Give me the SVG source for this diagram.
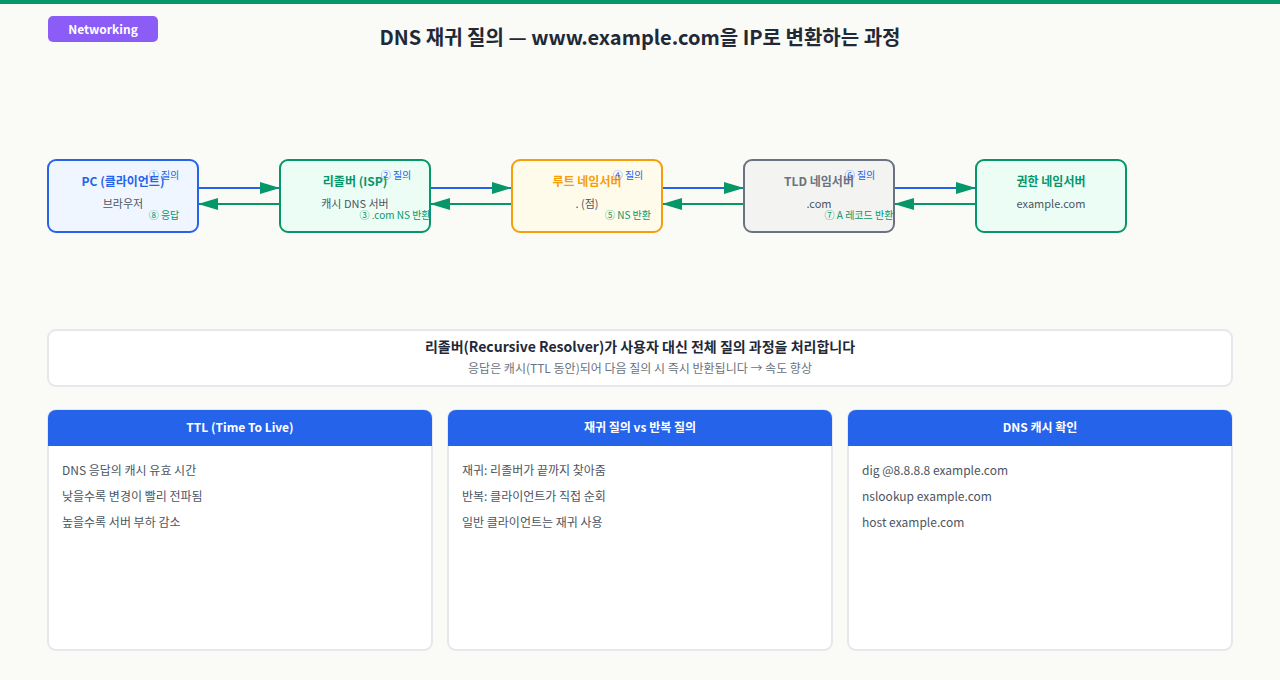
<svg xmlns="http://www.w3.org/2000/svg" width="1280" height="680" viewBox="0 0 1280 680">
<defs>
<marker id="ahb" viewBox="0 0 20 12" refX="20" refY="6" markerWidth="20" markerHeight="12" markerUnits="userSpaceOnUse" orient="auto"><path d="M0,0 L20,6 L0,12 z" fill="#059669"/></marker>
</defs>
<style>
text{font-family:"Noto Sans CJK KR","Noto Sans",sans-serif}
.nt{font-size:12px;font-weight:700;text-anchor:middle}
.ns{font-size:11px;fill:#4b5563;text-anchor:middle}
.q{font-size:10px;fill:#2563eb;text-anchor:middle}
.r{font-size:10px;fill:#059669;text-anchor:middle}
.fw{stroke:#2563eb;stroke-width:2;fill:none}
.bw{stroke:#059669;stroke-width:2;fill:none}
.card{fill:#ffffff;stroke:#e5e7eb;stroke-width:2}
.ch{font-size:12px;font-weight:700;fill:#ffffff;text-anchor:middle}
.ci{font-size:12px;fill:#4b5563}
</style>
<rect width="1280" height="680" fill="#fafaf6"/>
<rect width="1280" height="4" fill="#059669"/>
<g id="badge"><rect x="48" y="16" width="110" height="26" rx="5" fill="#8b5cf6"/><text x="103" y="33.5" font-size="12" font-weight="700" fill="#ffffff" text-anchor="middle">Networking</text></g>
<text id="title" x="640" y="45" font-size="20" font-weight="700" fill="#1f2937" text-anchor="middle">DNS 재귀 질의 — www.example.com을 IP로 변환하는 과정</text>

<g id="connectors">
<line class="fw" x1="198" y1="188" x2="280" y2="188" marker-end="url(#ahb)"/>
<line class="bw" x1="280" y1="204" x2="198" y2="204" marker-end="url(#ahb)"/>
<line class="fw" x1="430" y1="188" x2="512" y2="188" marker-end="url(#ahb)"/>
<line class="bw" x1="512" y1="204" x2="430" y2="204" marker-end="url(#ahb)"/>
<line class="fw" x1="662" y1="188" x2="744" y2="188" marker-end="url(#ahb)"/>
<line class="bw" x1="744" y1="204" x2="662" y2="204" marker-end="url(#ahb)"/>
<line class="fw" x1="894" y1="188" x2="976" y2="188" marker-end="url(#ahb)"/>
<line class="bw" x1="976" y1="204" x2="894" y2="204" marker-end="url(#ahb)"/>
</g>

<g id="pc"><rect x="48" y="160" width="150" height="72" rx="8" fill="#eff6ff" stroke="#2563eb" stroke-width="2"/><text class="nt" x="123" y="186" fill="#2563eb">PC (클라이언트)</text><text class="ns" x="123" y="208">브라우저</text></g>
<g id="resolver"><rect x="280" y="160" width="150" height="72" rx="8" fill="#ecfdf5" stroke="#059669" stroke-width="2"/><text class="nt" x="355" y="186" fill="#059669">리졸버 (ISP)</text><text class="ns" x="355" y="208">캐시 DNS 서버</text></g>
<g id="root"><rect x="512" y="160" width="150" height="72" rx="8" fill="#fffbeb" stroke="#f59e0b" stroke-width="2"/><text class="nt" x="587" y="186" fill="#f59e0b">루트 네임서버</text><text class="ns" x="587" y="208">. (점)</text></g>
<g id="tld"><rect x="744" y="160" width="150" height="72" rx="8" fill="#f3f4f1" stroke="#6b7280" stroke-width="2"/><text class="nt" x="819" y="186" fill="#6b7280">TLD 네임서버</text><text class="ns" x="819" y="208">.com</text></g>
<g id="auth"><rect x="976" y="160" width="150" height="72" rx="8" fill="#ecfdf5" stroke="#059669" stroke-width="2"/><text class="nt" x="1051" y="186" fill="#059669">권한 네임서버</text><text class="ns" x="1051" y="208">example.com</text></g>

<g id="edge-labels">
<text class="q" x="164" y="179">① 질의</text>
<text class="r" x="164" y="219">⑧ 응답</text>
<text class="q" x="396" y="179">② 질의</text>
<text class="r" x="395" y="219">③ .com NS 반환</text>
<text class="q" x="628" y="179">④ 질의</text>
<text class="r" x="628" y="219">⑤ NS 반환</text>
<text class="q" x="860" y="179">⑥ 질의</text>
<text class="r" x="859" y="219">⑦ A 레코드 반환</text>
</g>

<g id="info"><rect x="48" y="330" width="1184" height="56" rx="8" fill="#ffffff" stroke="#e5e7eb" stroke-width="2"/><text x="640" y="352" font-size="14" font-weight="700" fill="#1f2937" text-anchor="middle">리졸버(Recursive Resolver)가 사용자 대신 전체 질의 과정을 처리합니다</text><text x="640" y="373" font-size="12" fill="#6b7280" text-anchor="middle">응답은 캐시(TTL 동안)되어 다음 질의 시 즉시 반환됩니다 → 속도 향상</text></g>

<g id="card-ttl"><rect class="card" x="48" y="410" width="384" height="240" rx="8"/><path d="M48,446 V418 A8,8 0 0 1 56,410 H424 A8,8 0 0 1 432,418 V446 Z" fill="#2563eb"/><text class="ch" x="240" y="432">TTL (Time To Live)</text><text class="ci" x="62" y="475">DNS 응답의 캐시 유효 시간</text><text class="ci" x="62" y="501">낮을수록 변경이 빨리 전파됨</text><text class="ci" x="62" y="527">높을수록 서버 부하 감소</text></g>
<g id="card-rec"><rect class="card" x="448" y="410" width="384" height="240" rx="8"/><path d="M448,446 V418 A8,8 0 0 1 456,410 H824 A8,8 0 0 1 832,418 V446 Z" fill="#2563eb"/><text class="ch" x="640" y="432">재귀 질의 vs 반복 질의</text><text class="ci" x="462" y="475">재귀: 리졸버가 끝까지 찾아줌</text><text class="ci" x="462" y="501">반복: 클라이언트가 직접 순회</text><text class="ci" x="462" y="527">일반 클라이언트는 재귀 사용</text></g>
<g id="card-cache"><rect class="card" x="848" y="410" width="384" height="240" rx="8"/><path d="M848,446 V418 A8,8 0 0 1 856,410 H1224 A8,8 0 0 1 1232,418 V446 Z" fill="#2563eb"/><text class="ch" x="1040" y="432">DNS 캐시 확인</text><text class="ci" x="862" y="475">dig @8.8.8.8 example.com</text><text class="ci" x="862" y="501">nslookup example.com</text><text class="ci" x="862" y="527">host example.com</text></g>
</svg>
